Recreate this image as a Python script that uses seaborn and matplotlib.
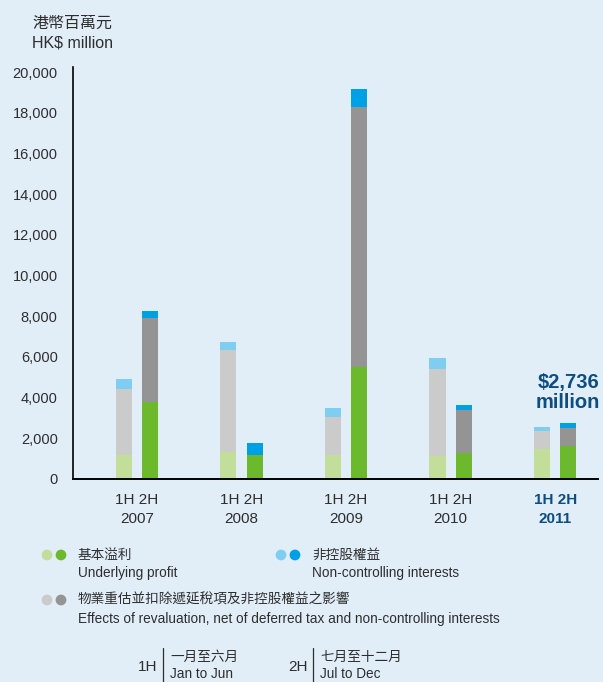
import matplotlib
matplotlib.use("Agg")
import matplotlib.pyplot as plt
import numpy as np
import pandas as pd
import seaborn as sns

# HK$ million per half-year, ordered 1H, 2H within each year
years = ["2007", "2008", "2009", "2010", "2011"]
halves = ["1H", "2H"]
underlying = [1180, 3800, 1340, 1180, 1180, 5500, 1150, 1280, 1475, 1640]
revaluation = [3240, 4130, 5015, 0, 1880, 12780, 4260, 2125, 885, 880]
noncontrolling = [490, 325, 375, 590, 430, 885, 540, 235, 195, 216]
y_ticks = list(range(0, 20001, 2000))

BG = "#E1EEF8"
TEXT = "#2E2E2E"
NAVY = "#0C4E83"
greens = ["#C2DE9A", "#6DB92E"]
greys = ["#CBCBCB", "#949494"]
blues = ["#80CDF2", "#00A0E6"]

sns.set_theme(style="white")
plt.rcParams["font.family"] = ["Liberation Sans", "Noto Sans CJK TC", "DejaVu Sans"]

df = pd.DataFrame({
    "year": np.repeat(years, len(halves)),
    "half": halves * len(years),
    "underlying": underlying,
    "revaluation": revaluation,
    "noncontrolling": noncontrolling,
})
df["with_reval"] = df["underlying"] + df["revaluation"]
df["total"] = df["with_reval"] + df["noncontrolling"]

W, H = 603, 682
fig = plt.figure(figsize=(W / 100, H / 100), dpi=100, facecolor=BG)
ax = fig.add_axes([73 / W, 1 - 479 / H, (598 - 73) / W, (479 - 67) / H])
ax.set_facecolor(BG)

# stacked bars: draw the full stack first, then overlay the lower segments
for col, pal in [("total", blues), ("with_reval", greys), ("underlying", greens)]:
    sns.barplot(data=df, x="year", y=col, hue="half", order=years, hue_order=halves,
                palette=pal, width=0.5, gap=0.385, dodge=True, saturation=1,
                errorbar=None, legend=False, linewidth=0, ax=ax)

ax.set_xlim(-0.612, 4.41)
ax.set_ylim(0, 20250)
ax.set_xlabel("")
ax.set_ylabel("")
ax.set_yticks(y_ticks)
ax.set_yticklabels([f"{v:,}" for v in y_ticks])
ax.set_xticks(range(len(years)))
ax.set_xticklabels([f"1H 2H\n{y}" for y in years], linespacing=1.5)
for i, lab in enumerate(ax.get_xticklabels()):
    if i == len(years) - 1:
        lab.set_color(NAVY)
        lab.set_fontweight("bold")
    else:
        lab.set_color(TEXT)
ax.tick_params(axis="y", length=0, pad=11, labelsize=10.5, labelcolor=TEXT)
ax.tick_params(axis="x", length=0, pad=10, labelsize=11)
sns.despine(ax=ax)
for side in ("left", "bottom"):
    ax.spines[side].set_color("black")
    ax.spines[side].set_linewidth(1.4)
ax.spines["left"].set_linewidth(1.2)
ax.grid(False)

# callout for the latest half-year total
last = df.iloc[-1]
ax.annotate(f"${last['total']:,.0f}\nmillion", xy=(len(years) - 1 + 0.125, last["total"]),
            xytext=(0, 8), textcoords="offset points", ha="center", va="bottom",
            fontsize=14.5, fontweight="bold", color=NAVY, linespacing=1.1)

# header and legend layer in pixel coordinates
lay = fig.add_axes([0, 0, 1, 1], facecolor="none")
lay.set_xlim(0, W)
lay.set_ylim(H, 0)
lay.set_axis_off()

lay.text(32, 23, "港幣百萬元", fontsize=11.5, color=TEXT, va="center", ha="left")
lay.text(32, 43, "HK$ million", fontsize=11.5, color=TEXT, va="center", ha="left")

legend_items = [
    (47, 555, greens, "基本溢利", "Underlying profit"),
    (281, 555, blues, "非控股權益", "Non-controlling interests"),
    (47, 600, greys, "物業重估並扣除遞延稅項及非控股權益之影響",
     "Effects of revaluation, net of deferred tax and non-controlling interests"),
]
for x, y, pal, zh, en in legend_items:
    lay.scatter([x, x + 14], [y, y], s=60, c=pal, edgecolors="none", clip_on=False)
    lay.text(x + 31, y, zh, fontsize=9.8, color=TEXT, va="center", ha="left")
    lay.text(x + 31, y + 18.5, en, fontsize=9.8, color=TEXT, va="center", ha="left")

for x, code, zh, en in [(138, "1H", "一月至六月", "Jan to Jun"),
                        (288, "2H", "七月至十二月", "Jul to Dec")]:
    lay.text(x, 667, code, fontsize=11, color=TEXT, va="center", ha="left")
    lay.plot([x + 25, x + 25], [648, 682], color=TEXT, lw=0.9, clip_on=False)
    lay.text(x + 32, 657, zh, fontsize=9.8, color=TEXT, va="center", ha="left")
    lay.text(x + 32, 674, en, fontsize=9.8, color=TEXT, va="center", ha="left")

fig.savefig("out.png", dpi=100, facecolor=BG)
